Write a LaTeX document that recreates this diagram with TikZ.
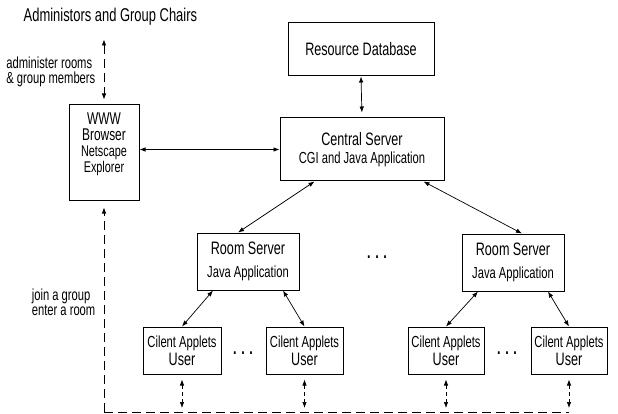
\documentclass[tikz,border=0pt]{standalone}
\usepackage{fontspec}
\setmainfont{Liberation Sans}[FakeStretch=0.7]
\usetikzlibrary{arrows.meta, positioning}

\newcommand{\lgtxt}{\fontsize{18}{18}\selectfont}
\newcommand{\smtxt}{\fontsize{16}{16}\selectfont}

\begin{document}
\begin{tikzpicture}[x=1pt, y=-1pt, <->, >={Latex[length=6pt, width=4.5pt]}, line width=0.7pt,
	box/.style={draw, line width=1pt, inner sep=0pt, align=center, font=\smtxt},
	dashline/.style={dash pattern=on 9pt off 5pt},
	dots/.style={font=\lgtxt\bfseries}]

	\useasboundingbox (0,0) rectangle (618,414);

	\node[anchor=west, font=\fontsize{18.5}{18}\selectfont]	(title)	at	(20,17)	{Administors and Group Chairs};

	\node[box, minimum width=146, minimum height=53, font=\lgtxt]	(resdb)	at	(361,49.5)	{Resource Database};
	\node[box, minimum width=164, minimum height=63]	(central)	at	(362,149.5)	{{\lgtxt Central Server}\\[2pt] CGI and Java Application};
	\node[box, minimum width=70, minimum height=96]	(browser)	at	(104,153)	{};
	\node[anchor=north, align=center, font=\fontsize{15.5}{14}\selectfont]	(browsertxt)	at	([yshift=-5pt]browser.north)	{{\fontsize{17}{14}\selectfont WWW}\\[2pt]{\fontsize{17}{14}\selectfont Browser}\\[2pt]Netscape\\Explorer};

	\node[box, minimum width=102, minimum height=57]	(room1)	at	(248,261.5)	{{\lgtxt Room Server}\\[7pt] Java Application};
	\node[box, minimum width=102, minimum height=57]	(room2)	at	(513,262.5)	{{\lgtxt Room Server}\\[7pt] Java Application};

	\node[box, minimum width=78, minimum height=47]	(c1)	at	(182,350.5)	{Cilent Applets\\[2pt]{\lgtxt User}};
	\node[box, minimum width=77, minimum height=47]	(c2)	at	(304.5,350.5)	{Cilent Applets\\[2pt]{\lgtxt User}};
	\node[box, minimum width=76, minimum height=47]	(c3)	at	(446,350.5)	{Cilent Applets\\[2pt]{\lgtxt User}};
	\node[box, minimum width=76, minimum height=47]	(c4)	at	(569,350.5)	{Cilent Applets\\[2pt]{\lgtxt User}};

	\node[dots]	(dotsroom)	at	(377,257)	{. . .};
	\node[dots]	(dotsleft)	at	(243,353)	{. . .};
	\node[dots]	(dotsright)	at	(507,353)	{. . .};

	\node[anchor=east, align=left, font=\fontsize{16}{15}\selectfont]	(adminlbl)	at	(99,72)	{administer rooms\\\& group members};
	\node[anchor=east, align=left, font=\fontsize{16}{15}\selectfont]	(joinlbl)	at	(99,302)	{join a group\\enter a room};

	\coordinate	(admtop)	at	([yshift=65pt]browser.north);
	\coordinate	(bl)	at	(browser.south |- 0,412);

	\path	(resdb.south)	edge[shorten >=5pt]	(central.north)
			(central.west -| browser.east)	edge	(central.west)
			([xshift=35pt]central.south west)	edge	([xshift=-10pt]room1.north)
			([xshift=-21pt]central.south east)	edge	([xshift=9pt]room2.north)
			([xshift=-35pt]room1.south)	edge	(c1.north)
			([xshift=35pt]room1.south)	edge	(c2.north)
			([xshift=-35pt]room2.south)	edge	(c3.north)
			([xshift=35pt]room2.south)	edge	(c4.north);

	\draw[dashline, shorten >=5pt]	(admtop)	--	(browser.north);
	\draw[dashline, ->, shorten >=6pt]	(bl)	--	(browser.south);
	\draw[dashline, -]	(bl)	--	(c4.south |- bl);
	\foreach \c in {c1, c2, c3, c4}
		\draw[dash pattern=on 4pt off 3pt, shorten <=5pt, shorten >=4pt]	(\c.south)	--	(\c.south |- bl);

\end{tikzpicture}
\end{document}
